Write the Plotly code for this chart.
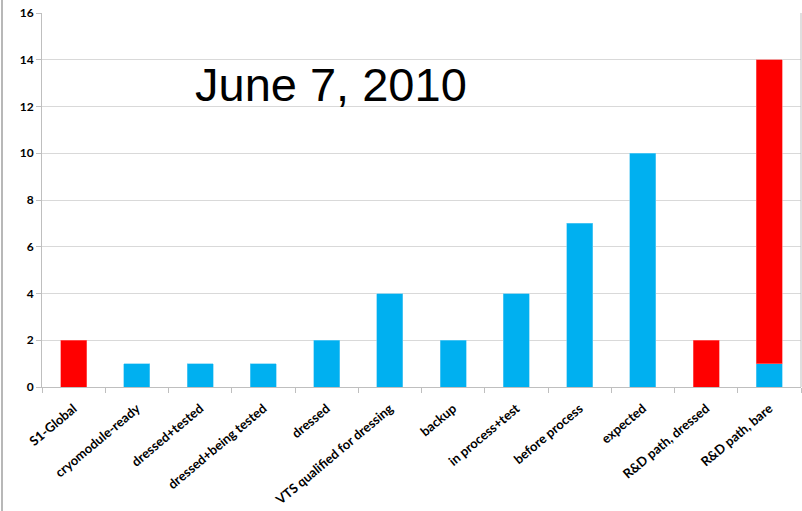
import plotly.graph_objects as go

categories = ["S1-Global", "cryomodule-ready", "dressed+tested", "dressed+being tested",
              "dressed", "VTS qualified for dressing", "backup", "in process+test",
              "before process", "expected", "R&D path, dressed", "R&D path, bare"]
blue_vals = [None, 1, 1, 1, 2, 4, 2, 4, 7, 10, None, 1]
red_vals = [2, None, None, None, None, None, None, None, None, None, 2, 13]
y_ticks = [0, 2, 4, 6, 8, 10, 12, 14, 16]

W, H = 802, 511
ml, mr, mt, mb = 42, 1, 13, 124

fig = go.Figure()
fig.add_trace(go.Bar(x=categories, y=blue_vals, marker=dict(color="#00B0F0", line=dict(color="#6FD0F5", width=0.6)), name="blue"))
fig.add_trace(go.Bar(x=categories, y=red_vals, marker=dict(color="#FF0000", line=dict(color="#FF7070", width=0.6)), name="red"))

fig.update_layout(
    width=W, height=H, barmode="stack", bargap=0.59,
    margin=dict(l=ml, r=mr, t=mt, b=mb, autoexpand=False),
    paper_bgcolor="white", plot_bgcolor="white", showlegend=False,
    font=dict(family="Lato", color="black"),
)
fig.update_yaxes(range=[0, 16], tickvals=y_ticks, showgrid=True, gridcolor="#D9D9D9", gridwidth=1,
                 showline=True, linecolor="#BFBFBF", ticks="outside", ticklen=5, tickcolor="#BFBFBF",
                 tickfont=dict(family="Lato", size=12, color="black", weight="bold"), zeroline=False,
                 automargin=False)
fig.update_xaxes(showline=True, linecolor="#BFBFBF", ticks="outside", ticklen=5, tickcolor="#BFBFBF",
                 tickson="boundaries", tickangle=-40, automargin=False, ticklabelstandoff=8,
                 tickfont=dict(family="Lato", size=13, color="black", weight="bold"), mirror=False)
# right frame line
fig.add_shape(type="line", xref="paper", yref="paper", x0=1, x1=1, y0=0, y1=1, line=dict(color="#BFBFBF", width=1))
# slide border at left
pw = W - ml - mr
ph = H - mt - mb
fig.add_shape(type="line", xref="paper", yref="paper", x0=(2 - ml) / pw, x1=(2 - ml) / pw,
              y0=-mb / ph, y1=1 + mt / ph, line=dict(color="#A0A0A0", width=1.5))
fig.add_annotation(text="June 7, 2010", xref="paper", yref="paper",
                   x=(331 - ml) / pw, y=1 - (84 - mt) / ph, yanchor="middle", xanchor="center",
                   showarrow=False, font=dict(family="Liberation Sans", size=47, color="black"))
fig.write_html("out.html", config={"displayModeBar": False},
               post_script="document.body.style.margin='0';document.body.style.overflow='hidden';")
